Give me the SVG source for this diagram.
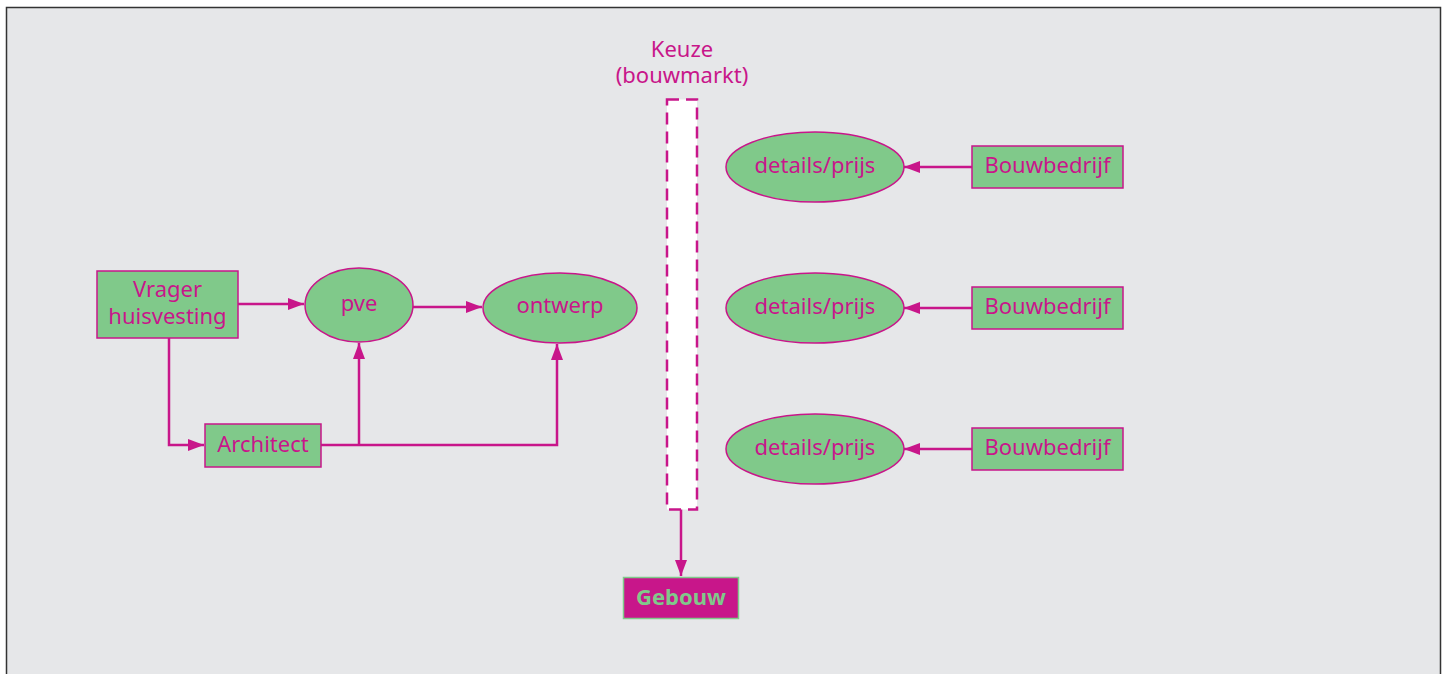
<svg xmlns="http://www.w3.org/2000/svg" width="1448" height="674" viewBox="0 0 1448 674">
<defs>
<marker id="ah" viewBox="0 0 16 12" refX="16" refY="6" markerWidth="16" markerHeight="12" markerUnits="userSpaceOnUse" orient="auto" preserveAspectRatio="none">
<path d="M0,0 L16,6 L0,12 z" fill="#c8168a"/>
</marker>
<style>
.box{fill:#80c98a;stroke:#c8168a;stroke-width:1.5}
.ell{fill:#80c98a;stroke:#c8168a;stroke-width:1.5}
.t{font-family:"Noto Sans","Liberation Sans",sans-serif;font-size:22px;fill:#c8168a;text-anchor:middle}
.c{fill:none;stroke:#c8168a;stroke-width:2.5}
</style>
</defs>
<rect x="0" y="0" width="1448" height="674" fill="#ffffff"/>
<rect x="6.5" y="7.5" width="1434" height="680" fill="#e6e7e9" stroke="#333" stroke-width="1.5"/>
<g id="connectors">
<path class="c" d="M238,304 H304" marker-end="url(#ah)"/>
<path class="c" d="M413,307 H482" marker-end="url(#ah)"/>
<path class="c" d="M169,338 V445 H204" marker-end="url(#ah)"/>
<path class="c" d="M321,445 H557 V344" marker-end="url(#ah)"/>
<path class="c" d="M359,445 V343" marker-end="url(#ah)"/>
<path class="c" d="M681,509 V576" marker-end="url(#ah)"/>
<path class="c" d="M972,167 H904" marker-end="url(#ah)"/>
<path class="c" d="M972,308 H904" marker-end="url(#ah)"/>
<path class="c" d="M972,449 H904" marker-end="url(#ah)"/>
</g>
<g id="keuze">
<rect x="667" y="99.5" width="30" height="410" fill="#ffffff" stroke="#c8168a" stroke-width="2.5" stroke-dasharray="12,7"/>
<text class="t" x="682" y="57">Keuze</text>
<text class="t" x="682" y="83">(bouwmarkt)</text>
</g>
<g id="vrager">
<rect class="box" x="97" y="271" width="141" height="67"/>
<text class="t" x="167.5" y="297">Vrager</text>
<text class="t" x="167.5" y="324">huisvesting</text>
</g>
<g id="architect">
<rect class="box" x="205" y="424" width="116" height="43"/>
<text class="t" x="263" y="452">Architect</text>
</g>
<g id="pve">
<ellipse class="ell" cx="359" cy="305" rx="54" ry="37"/>
<text class="t" x="359" y="311">pve</text>
</g>
<g id="ontwerp">
<ellipse class="ell" cx="560" cy="308" rx="77" ry="35"/>
<text class="t" x="560" y="313">ontwerp</text>
</g>
<g id="gebouw">
<rect x="623.5" y="577.5" width="115" height="41" fill="#c8168a" stroke="#80c98a" stroke-width="1.5"/>
<text class="t" x="681" y="605" style="fill:#80c98a;font-weight:bold">Gebouw</text>
</g>
<g id="details1">
<ellipse class="ell" cx="815" cy="167" rx="89" ry="35"/>
<text class="t" x="815" y="173">details/prijs</text>
</g>
<g id="details2">
<ellipse class="ell" cx="815" cy="308" rx="89" ry="35"/>
<text class="t" x="815" y="314">details/prijs</text>
</g>
<g id="details3">
<ellipse class="ell" cx="815" cy="449" rx="89" ry="35"/>
<text class="t" x="815" y="455">details/prijs</text>
</g>
<g id="bouw1">
<rect class="box" x="972" y="146" width="151" height="42"/>
<text class="t" x="1047.5" y="173">Bouwbedrijf</text>
</g>
<g id="bouw2">
<rect class="box" x="972" y="287" width="151" height="42"/>
<text class="t" x="1047.5" y="314">Bouwbedrijf</text>
</g>
<g id="bouw3">
<rect class="box" x="972" y="428" width="151" height="42"/>
<text class="t" x="1047.5" y="455">Bouwbedrijf</text>
</g>
</svg>
